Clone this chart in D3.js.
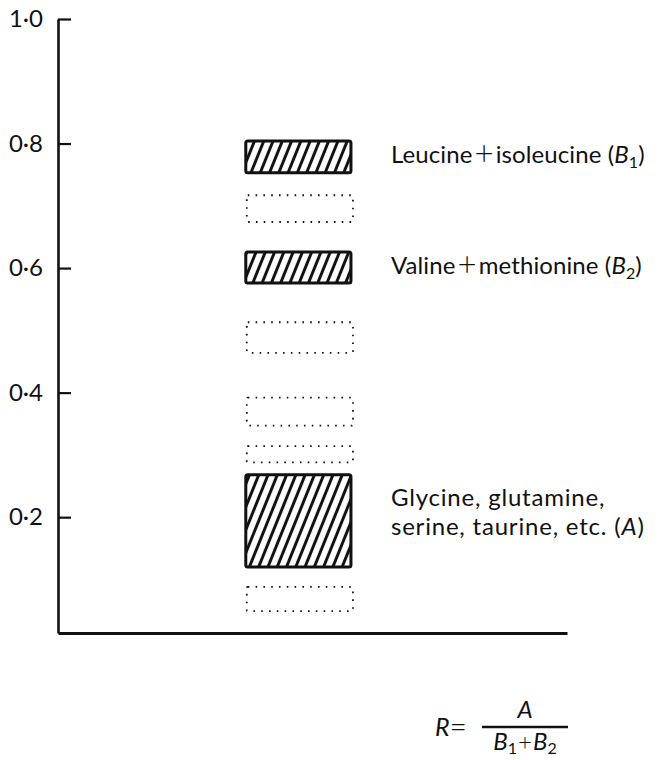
<!DOCTYPE html>
<html>
<head>
<meta charset="utf-8">
<script src="https://cdn.jsdelivr.net/npm/d3@7"></script>
<style>
  body { margin: 0; background: #fff; }
  svg text { font-family: Lato, "Open Sans", sans-serif; fill: #111; }
</style>
</head>
<body>
<div id="chart"></div>
<script>
// y axis ticks
var tickValues = [0.2, 0.4, 0.6, 0.8, 1.0];
var tickLabels = ["0·2", "0·4", "0·6", "0·8", "1·0"];

// spots on the strip, top to bottom (Rf range)
var spotTop    = [0.804, 0.717, 0.626, 0.513, 0.392, 0.314, 0.268, 0.088];
var spotBottom = [0.753, 0.674, 0.576, 0.464, 0.347, 0.288, 0.120, 0.049];
var spotKind   = ["hatched", "dotted", "hatched", "dotted", "dotted", "dotted", "hatched", "dotted"];

// labels for the hatched spots: [text, style] pieces, one array per line
var labelSpot = [0, 2, 6];
var labelLines = [
  [[["Leucine", ""], ["+", "plus"], ["isoleucine (", ""], ["B", "it"], ["1", "sub"], [")", "up"]]],
  [[["Valine", ""], ["+", "plus"], ["methionine (", ""], ["B", "it"], ["2", "sub"], [")", "up"]]],
  [[["Glycine, glutamine,", ""]], [["serine, taurine, etc. (", ""], ["A", "it"], [")", ""]]]
];

var margin = {top: 19, right: 91, bottom: 127, left: 58},
    width = 658 - margin.left - margin.right,
    height = 760 - margin.top - margin.bottom;

var svg = d3.select("#chart")
  .append("svg")
    .attr("width", 658)
    .attr("height", 760)
  .append("g")
    .attr("transform", "translate(" + margin.left + "," + margin.top + ")");

var defs = svg.append("defs");
var pat = defs.append("pattern")
    .attr("id", "hatch")
    .attr("patternUnits", "userSpaceOnUse")
    .attr("width", 8.6)
    .attr("height", 12)
    .attr("patternTransform", "rotate(22)");
pat.append("rect").attr("width", 8.6).attr("height", 12).attr("fill", "#fff");
pat.append("line")
    .attr("x1", 4.3).attr("x2", 4.3).attr("y1", 0).attr("y2", 12)
    .attr("stroke", "#111").attr("stroke-width", 3);

var y = d3.scaleLinear()
  .domain([0.014, 1.0])
  .range([height, 0]);

var x = d3.scaleBand()
  .domain(["strip"])
  .range([0, width])
  .paddingOuter(1.92)
  .align(0.465);

// Y axis
var yAxis = svg.append("g")
  .call(d3.axisLeft(y)
    .tickValues(tickValues)
    .tickFormat(function (d, i) { return tickLabels[i]; })
    .tickSizeInner(-13)
    .tickSizeOuter(0)
    .tickPadding(15));
yAxis.select(".domain").attr("stroke", "#111").attr("stroke-width", 2.6);
yAxis.selectAll(".tick line").attr("stroke", "#111").attr("stroke-width", 2.2);
yAxis.selectAll(".tick text")
  .style("font-size", "24px")
  .style("font-family", "Lato, 'Open Sans', sans-serif")
  .attr("fill", "#111");

// X axis (bare line)
var xAxis = svg.append("g")
  .attr("transform", "translate(0," + height + ")")
  .call(d3.axisBottom(x).tickValues([]).tickSizeOuter(0));
xAxis.select(".domain").attr("stroke", "#111").attr("stroke-width", 3);

// spots
var spots = spotTop.map(function (t, i) {
  return {top: t, bottom: spotBottom[i], kind: spotKind[i]};
});

svg.append("g")
  .selectAll("rect")
  .data(spots)
  .enter()
  .append("rect")
    .attr("x", function (d) { return x("strip") + (d.kind == "dotted" ? 1 : 0); })
    .attr("width", function (d) { return x.bandwidth() + (d.kind == "dotted" ? 1 : 0); })
    .attr("y", function (d) { return y(d.top); })
    .attr("height", function (d) { return y(d.bottom) - y(d.top); })
    .attr("rx", function (d) { return d.kind == "hatched" ? 2 : 1; })
    .attr("fill", function (d) { return d.kind == "hatched" ? "url(#hatch)" : "none"; })
    .attr("stroke", "#111")
    .attr("stroke-width", function (d) { return d.kind == "hatched" ? 3 : 1.8; })
    .attr("stroke-dasharray", function (d) { return d.kind == "hatched" ? null : "1.6 6.2"; });

// write one line of mixed-style text
function writeLine(sel, parts) {
  parts.forEach(function (p) {
    var ts = sel.append("tspan").text(p[0]);
    if (p[1] == "it") ts.style("font-style", "italic");
    if (p[1] == "plus") {
      ts.style("font-weight", "300").style("font-size", "33px")
        .attr("dx", 2).attr("dy", 2);
    }
    if (p[1] == "sub") ts.style("font-size", "16px").attr("dy", 5);
    if (p[1] == "up") ts.attr("dy", -5);
  });
  // undo the plus sign's shift for the piece after it
  sel.selectAll("tspan").each(function (d, i, nodes) {
    if (i > 0 && d3.select(nodes[i - 1]).text() == "+") {
      d3.select(this).attr("dx", 2).attr("dy", -2);
    }
  });
}

// labels
var labelX = x("strip") + x.bandwidth() + 40;
labelSpot.forEach(function (si, li) {
  var s = spots[si];
  var lines = labelLines[li];
  var cy = (y(s.top) + y(s.bottom)) / 2 - (lines.length > 1 ? 23 : 2);
  lines.forEach(function (parts, k) {
    var txt = svg.append("text")
      .attr("x", labelX)
      .attr("y", cy + k * 29)
      .attr("dy", "0.35em")
      .style("font-size", "24px")
      .style("letter-spacing", lines.length > 1 ? "0.8px" : "0.1px");
    writeLine(txt, parts);
  });
});

// formula R = A / (B1 + B2)
var fx0 = 424, fx1 = 510, fy = 708;
var f = svg.append("g");
f.append("line")
  .attr("x1", fx0).attr("x2", fx1).attr("y1", fy).attr("y2", fy)
  .attr("stroke", "#111").attr("stroke-width", 2.4);
var rt = f.append("text").attr("x", fx0 - 15).attr("y", fy).attr("dy", "0.35em")
  .attr("text-anchor", "end").style("font-size", "25px");
rt.append("tspan").text("R").style("font-style", "italic");
rt.append("tspan").text("=").style("font-weight", "300").style("font-size", "30px").attr("dy", 1);
f.append("text").attr("x", (fx0 + fx1) / 2).attr("y", fy - 9)
  .attr("text-anchor", "middle").style("font-size", "24px").style("font-style", "italic").text("A");
var bt = f.append("text").attr("x", (fx0 + fx1) / 2).attr("y", fy + 23)
  .attr("text-anchor", "middle").style("font-size", "24px");
bt.append("tspan").text("B").style("font-style", "italic");
bt.append("tspan").text("1").style("font-size", "16px").attr("dy", 4);
bt.append("tspan").text("+").style("font-weight", "300").attr("dx", 1).attr("dy", -4);
bt.append("tspan").text("B").style("font-style", "italic").attr("dx", 1);
bt.append("tspan").text("2").style("font-size", "16px").attr("dy", 4);
</script>
</body>
</html>
